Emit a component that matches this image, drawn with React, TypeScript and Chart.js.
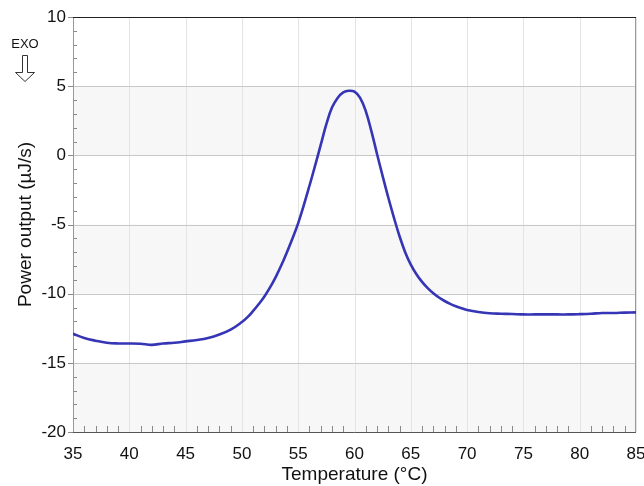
import React, { useEffect, useRef } from "react";
import { Chart, registerables } from "chart.js";

Chart.register(...registerables);

const temperatures = [
  35, 36, 37, 38, 39, 40, 41, 42, 43, 44, 45, 46, 47, 48, 49, 50, 50.5, 51, 51.5, 52, 52.5, 53, 53.5, 54,
  54.5, 55, 55.5, 56, 56.5, 57, 57.5, 58, 58.5, 59, 59.5, 60, 60.5, 61, 61.5, 62, 62.5, 63, 63.5, 64,
  64.5, 65, 65.5, 66, 66.5, 67, 67.5, 68, 68.5, 69, 69.5, 70, 71, 72, 73, 74, 75, 76, 77, 78, 79, 80,
  81, 82, 83, 84, 85,
];
const powerOutput = [
  -12.9, -13.2, -13.4, -13.55, -13.6, -13.6, -13.62, -13.7, -13.6, -13.55, -13.45, -13.35, -13.2, -12.95,
  -12.6, -12.05, -11.7, -11.25, -10.75, -10.2, -9.55, -8.8, -7.95, -7.0, -6.0, -4.9, -3.6, -2.2, -0.75,
  0.75, 2.25, 3.45, 4.15, 4.55, 4.67, 4.6, 4.15, 3.2, 1.75, 0.1, -1.5, -3.05, -4.5, -5.85, -7.0, -7.9,
  -8.6, -9.15, -9.6, -9.97, -10.28, -10.53, -10.74, -10.91, -11.05, -11.18, -11.33, -11.42, -11.45,
  -11.47, -11.5, -11.5, -11.5, -11.5, -11.5, -11.48, -11.45, -11.4, -11.4, -11.37, -11.35,
];
const xTicks = [35, 40, 45, 50, 55, 60, 65, 70, 75, 80, 85];
const yTicks = [10, 5, 0, -5, -10, -15, -20];
const shadedBands = [[0, 5], [-10, -5], [-20, -15]];

const FONT = "'Liberation Sans', Arial, sans-serif";

const decorPlugin = {
  id: "decor",
  beforeDatasetsDraw(chart: any) {
    const { ctx, chartArea } = chart;
    const xs = chart.scales.x;
    const ys = chart.scales.y;
    const { left, right, top, bottom } = chartArea;
    ctx.save();
    // bands
    ctx.fillStyle = "#f7f7f7";
    for (const [a, b] of shadedBands) {
      const y1 = ys.getPixelForValue(b);
      const y2 = ys.getPixelForValue(a);
      ctx.fillRect(left, y1, right - left, y2 - y1);
    }
    // vertical grid
    ctx.strokeStyle = "#e4e4e4";
    ctx.lineWidth = 1;
    for (const t of xTicks) {
      const x = Math.round(xs.getPixelForValue(t)) + 0.5;
      ctx.beginPath();
      ctx.moveTo(x, top);
      ctx.lineTo(x, bottom);
      ctx.stroke();
    }
    // horizontal grid
    ctx.strokeStyle = "#c8c8c8";
    for (const v of yTicks) {
      const y = Math.round(ys.getPixelForValue(v)) + 0.5;
      ctx.beginPath();
      ctx.moveTo(left, y);
      ctx.lineTo(right, y);
      ctx.stroke();
    }
    // minor ticks x
    ctx.strokeStyle = "#888888";
    for (let t = 35; t <= 85; t += 1) {
      if (t % 5 === 0) continue;
      const x = Math.round(xs.getPixelForValue(t)) + 0.5;
      ctx.beginPath();
      ctx.moveTo(x, bottom);
      ctx.lineTo(x, bottom - 6);
      ctx.stroke();
    }
    // minor ticks y
    for (let v = -20; v <= 10; v += 1) {
      const y = Math.round(ys.getPixelForValue(v)) + 0.5;
      ctx.beginPath();
      if (v % 5 === 0) {
        ctx.moveTo(left - 5, y);
        ctx.lineTo(left, y);
      } else {
        ctx.moveTo(left, y);
        ctx.lineTo(left + 4, y);
      }
      ctx.stroke();
    }
    // borders
    ctx.strokeStyle = "#999999";
    ctx.beginPath();
    ctx.moveTo(Math.round(left) + 0.5, top);
    ctx.lineTo(Math.round(left) + 0.5, bottom);
    ctx.moveTo(Math.round(right) - 0.5, top);
    ctx.lineTo(Math.round(right) - 0.5, bottom);
    ctx.stroke();
    ctx.strokeStyle = "#222222";
    ctx.beginPath();
    ctx.moveTo(left, Math.round(top) + 0.5);
    ctx.lineTo(right, Math.round(top) + 0.5);
    ctx.stroke();
    ctx.strokeStyle = "#555555";
    ctx.beginPath();
    ctx.moveTo(left, Math.round(bottom) + 0.5);
    ctx.lineTo(right, Math.round(bottom) + 0.5);
    ctx.stroke();

    // EXO label + arrow
    ctx.fillStyle = "#111111";
    ctx.font = `13px ${FONT}`;
    ctx.textAlign = "center";
    ctx.textBaseline = "middle";
    ctx.fillText("EXO", 25, 44);
    ctx.strokeStyle = "#333333";
    ctx.fillStyle = "#ffffff";
    ctx.beginPath();
    ctx.moveTo(22.5, 55.5);
    ctx.lineTo(27.5, 55.5);
    ctx.lineTo(27.5, 72.5);
    ctx.lineTo(34.5, 72.5);
    ctx.lineTo(25, 81.5);
    ctx.lineTo(15.5, 72.5);
    ctx.lineTo(22.5, 72.5);
    ctx.closePath();
    ctx.fill();
    ctx.stroke();
    ctx.restore();
  },
};

export default function App() {
  const canvasRef = useRef<HTMLCanvasElement | null>(null);

  useEffect(() => {
    document.body.style.margin = "0";
    const canvas = canvasRef.current;
    if (!canvas) return;
    const data = temperatures.map((t, i) => ({ x: t, y: powerOutput[i] }));
    const chart = new Chart(canvas, {
      type: "line",
      data: {
        datasets: [
          {
            data,
            borderColor: "#3535b5",
            borderWidth: 2.6,
            pointRadius: 0,
            fill: false,
            tension: 0.4,
          },
        ],
      },
      options: {
        animation: false,
        responsive: false,
        maintainAspectRatio: false,
        events: [],
        layout: { padding: { top: 17, right: 8, left: 0, bottom: 0 } },
        plugins: { legend: { display: false }, tooltip: { enabled: false } },
        scales: {
          x: {
            type: "linear",
            min: 35,
            max: 85,
            afterBuildTicks: (s: any) => {
              s.ticks = xTicks.map((v) => ({ value: v }));
            },
            afterFit: (s: any) => {
              s.height = 54;
              s.paddingLeft = 0;
              s.paddingRight = 0;
            },
            grid: { display: false, drawTicks: false },
            border: { display: false },
            ticks: {
              color: "#111111",
              font: { family: FONT, size: 17 },
              padding: 12,
              maxRotation: 0,
              autoSkip: false,
            },
            title: {
              display: true,
              text: "Temperature (°C)",
              color: "#111111",
              font: { family: FONT, size: 19 },
              padding: { top: 0, bottom: 0 },
            },
          },
          y: {
            type: "linear",
            min: -20,
            max: 10,
            afterBuildTicks: (s: any) => {
              s.ticks = yTicks.map((v) => ({ value: v }));
            },
            afterFit: (s: any) => {
              s.width = 73;
              s.paddingTop = 0;
              s.paddingBottom = 0;
            },
            grid: { display: false, drawTicks: false },
            border: { display: false },
            ticks: {
              color: "#111111",
              font: { family: FONT, size: 17 },
              padding: 7,
              autoSkip: false,
            },
            title: {
              display: true,
              text: "Power output (µJ/s)",
              color: "#111111",
              font: { family: FONT, size: 19 },
              padding: { top: 14, bottom: 0 },
            },
          },
        },
      },
      plugins: [decorPlugin],
    });
    return () => chart.destroy();
  }, []);

  return (
    <div style={{ width: 644, height: 486 }}>
      <canvas ref={canvasRef} width={644} height={486} style={{ display: "block" }} />
    </div>
  );
}
